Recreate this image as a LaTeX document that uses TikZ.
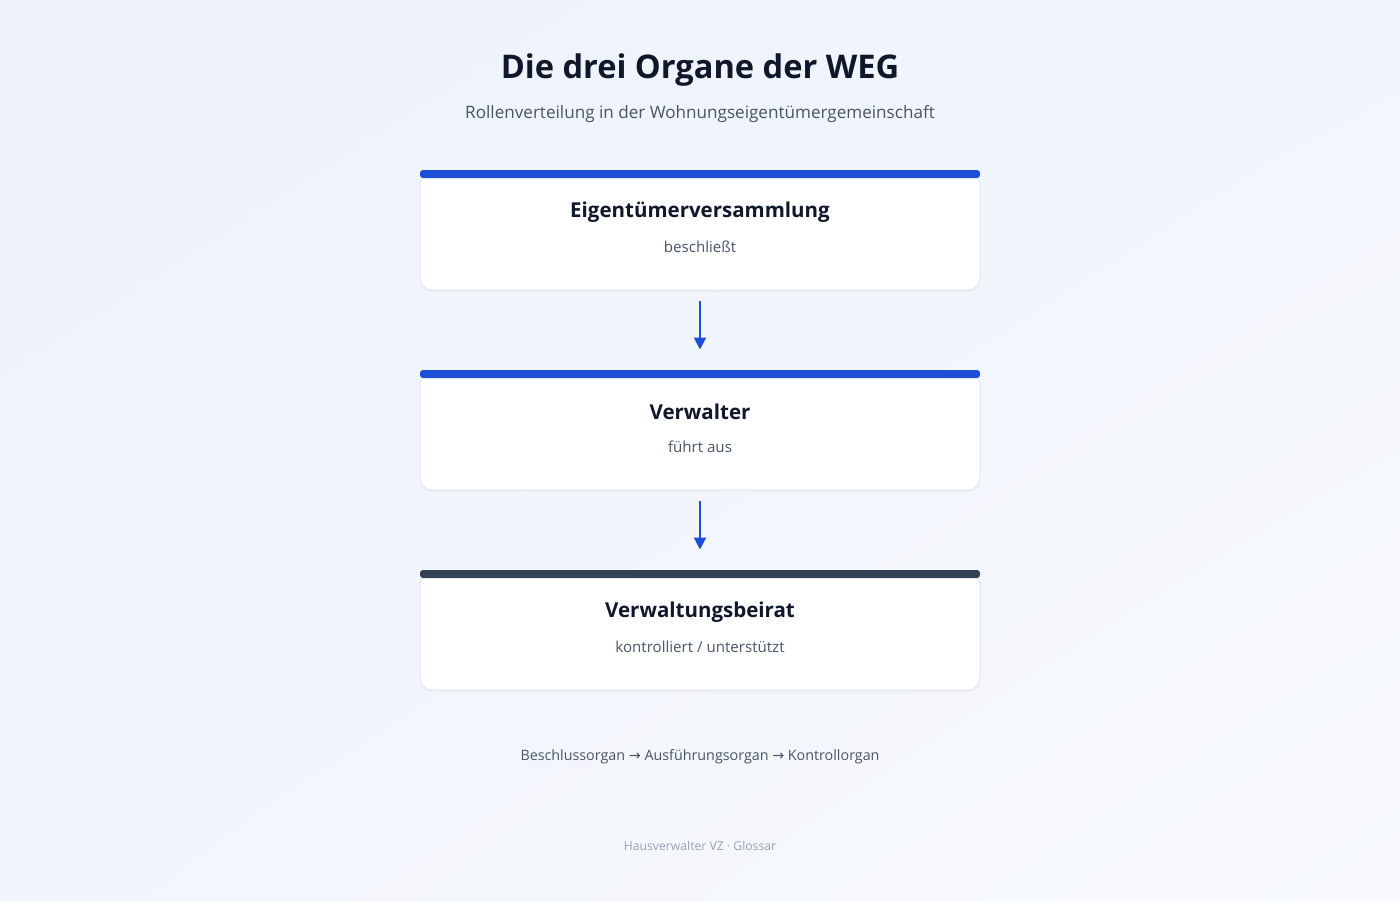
\documentclass[tikz,border=0pt]{standalone}
\usepackage{fontspec}
\setmainfont{Open Sans}
\newfontfamily\symfont{DejaVu Sans}
\usetikzlibrary{arrows.meta,shadows,shadings}

\definecolor{ink}{HTML}{0F172A}
\definecolor{slate}{HTML}{475569}
\definecolor{muted}{HTML}{94A3B8}
\definecolor{accent}{HTML}{1D4ED8}
\definecolor{dark}{HTML}{334155}
\definecolor{edge}{HTML}{E2E8F0}
\definecolor{bgA}{HTML}{ECF1FB}
\definecolor{bgM}{HTML}{F2F5FC}
\definecolor{bgB}{HTML}{F8FAFD}

\tikzset{
  organbox/.style={rectangle, rounded corners=12pt, draw=edge, line width=1pt, fill=white,
    minimum width=560pt, minimum height=118pt, inner sep=0pt,
    drop shadow={opacity=0.06, shadow xshift=0pt, shadow yshift=-2pt}},
  topbar/.style={rectangle, rounded corners=3pt, minimum width=560pt, minimum height=8pt, inner sep=0pt},
  organtitle/.style={font=\fontsize{20.5}{24}\selectfont\bfseries, text=ink},
  organsub/.style={font=\fontsize{15.1}{18}\selectfont, text=slate},
  flow/.style={accent, line width=2pt, -{Triangle[width=12pt,length=12pt]}, shorten <=10pt, shorten >=22pt}
}

\begin{document}
\begin{tikzpicture}[x=1pt, y=-1pt]
                    % BACKGROUND
                    \shade[upper left=bgA, upper right=bgM, lower left=bgM, lower right=bgB] (0,0) rectangle (1400,900);
                    \useasboundingbox (0,0) rectangle (1400,900);

                    % HEADER
                    \node[font=\fontsize{32.6}{38}\selectfont\bfseries, text=ink] (title) at (700,70) {Die drei Organe der WEG};
                    \node[font=\fontsize{17.1}{20}\selectfont, text=slate] (subtitle) at (700,114) {Rollenverteilung in der Wohnungseigentümergemeinschaft};

                    % EIGENTUEMERVERSAMMLUNG
                    \node[organbox] (EV) at (700,231) {};
                    \node[topbar, fill=accent] (EVbar) at (700,174) {};
                    \node[organtitle] (EVtitle) at (700,212) {Eigentümerversammlung};
                    \node[organsub] (EVsub) at (700,247) {beschließt};

                    % VERWALTER
                    \node[organbox] (VW) at (700,431) {};
                    \node[topbar, fill=accent] (VWbar) at (700,374) {};
                    \node[organtitle] (VWtitle) at (700,412) {Verwalter};
                    \node[organsub] (VWsub) at (700,447) {führt aus};

                    % VERWALTUNGSBEIRAT
                    \node[organbox] (VB) at (700,631) {};
                    \node[topbar, fill=dark] (VBbar) at (700,574) {};
                    \node[organtitle] (VBtitle) at (700,612) {Verwaltungsbeirat};
                    \node[organsub] (VBsub) at (700,647) {kontrolliert / unterstützt};

                    % ARROWS
                    \draw[flow] (EV.south) -- (VW.north);
                    \draw[flow] (VW.south) -- (VB.north);

                    % FOOTER
                    \node[font=\fontsize{14.3}{18}\selectfont, text=slate] (chain) at (700,757) {Beschlussorgan {\symfont →} Ausführungsorgan {\symfont →} Kontrollorgan};
                    \node[font=\fontsize{12.2}{14}\selectfont, text=muted] (credit) at (700,846) {Hausverwalter VZ · Glossar};
                \end{tikzpicture}
\end{document}
